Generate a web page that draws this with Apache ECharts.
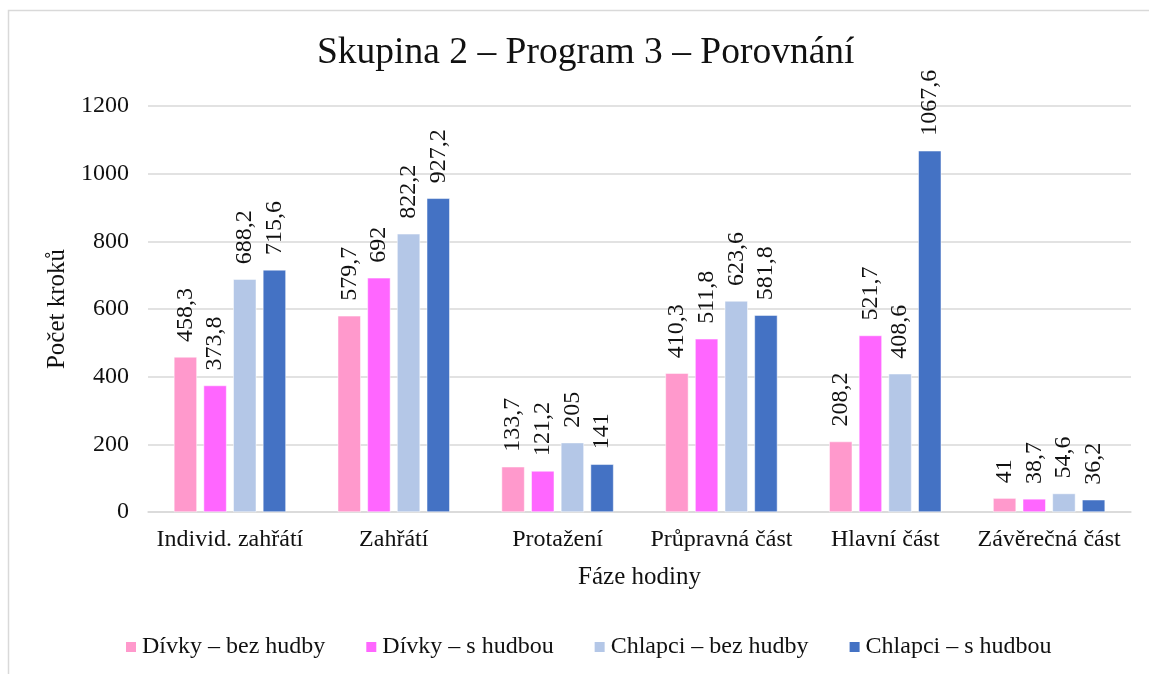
<!DOCTYPE html>
<html>
<head>
<meta charset="utf-8">
<script src="https://cdn.jsdelivr.net/npm/echarts@6/dist/echarts.min.js"></script>
<style>
html,body{margin:0;padding:0;background:#fff;}
#main{width:1149px;height:674px;}
</style>
</head>
<body>
<div id="main"></div>
<script>
const categories = ["Individ. zahřátí", "Zahřátí", "Protažení", "Průpravná část", "Hlavní část", "Závěrečná část"];
const seriesNames = ["Dívky – bez hudby", "Dívky – s hudbou", "Chlapci – bez hudby", "Chlapci – s hudbou"];
const divkyBez = [458.3, 579.7, 133.7, 410.3, 208.2, 41];
const divkyS = [373.8, 692, 121.2, 511.8, 521.7, 38.7];
const chlapciBez = [688.2, 822.2, 205, 623.6, 408.6, 54.6];
const chlapciS = [715.6, 927.2, 141, 581.8, 1067.6, 36.2];
const colors = ["#FF99CC", "#FF66FF", "#B4C7E7", "#4472C4"];

const FONT = '"Liberation Serif", "Times New Roman", serif';
const chart = echarts.init(document.getElementById('main'));
const allData = [divkyBez, divkyS, chlapciBez, chlapciS];

function fmt(v) { return String(v).replace('.', ','); }

chart.setOption({
  animation: false,
  textStyle: { fontFamily: FONT },
  graphic: [{
    type: 'rect', shape: { x: 8.5, y: 10.5, width: 1160, height: 700 },
    style: { fill: 'none', stroke: '#d9d9d9', lineWidth: 1.5 }, silent: true
  }],
  title: {
    text: 'Skupina 2 – Program 3 – Porovnání',
    left: 312, top: 29,
    textStyle: { fontFamily: FONT, fontSize: 37.5, fontWeight: 'normal', color: '#111' }
  },
  legend: {
    top: 630, left: 119,
    itemWidth: 12, itemHeight: 12, itemGap: 39,
    icon: 'rect',
    textStyle: { fontFamily: FONT, fontSize: 24, color: '#111' },
    data: seriesNames
  },
  grid: { left: 148, right: 18, top: 106, bottom: 162 },
  xAxis: {
    type: 'category', data: categories,
    name: 'Fáze hodiny', nameLocation: 'middle', nameGap: 53,
    nameTextStyle: { fontFamily: FONT, fontSize: 25, color: '#111', verticalAlign: 'top' },
    axisLine: { lineStyle: { color: '#d9d9d9', width: 1.5 } },
    axisTick: { show: false },
    axisLabel: { fontFamily: FONT, fontSize: 24, color: '#111', margin: 16, interval: 0 }
  },
  yAxis: {
    type: 'value', min: 0, max: 1200, interval: 200,
    name: 'Počet kroků', nameLocation: 'middle', nameGap: 78,
    nameTextStyle: { fontFamily: FONT, fontSize: 25, color: '#111' },
    axisLine: { show: false }, axisTick: { show: false },
    axisLabel: { fontFamily: FONT, fontSize: 24, color: '#111', margin: 19, formatter: v => String(v) },
    splitLine: { lineStyle: { color: '#d9d9d9', width: 1.5 } }
  },
  series: seriesNames.map((n, i) => ({
    name: n, type: 'bar', data: allData[i],
    barWidth: 23, barGap: '29%',
    itemStyle: { color: colors[i], borderColor: '#ffffff', borderWidth: 0.5 },
    label: {
      show: true, position: 'top', rotate: 90, align: 'left', verticalAlign: 'middle',
      distance: 15, fontFamily: FONT, fontSize: 24, color: '#111',
      formatter: p => fmt(p.value)
    }
  }))
});
</script>
</body>
</html>
